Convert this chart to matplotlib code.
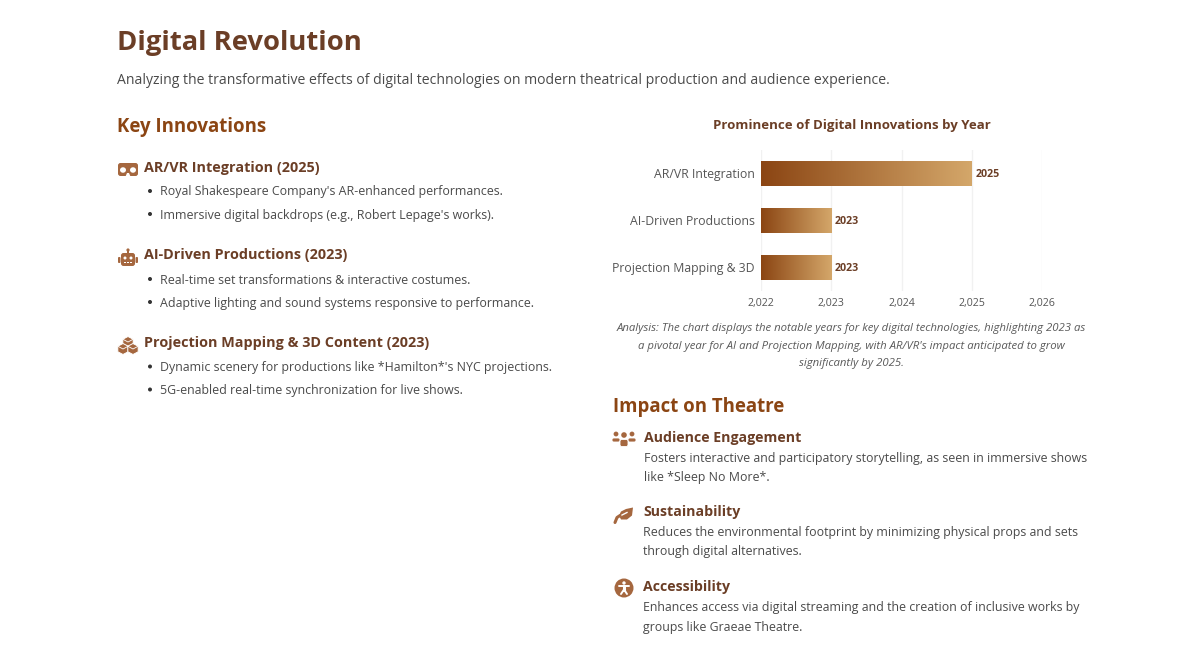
import numpy as np
from matplotlib import pyplot as plt
from matplotlib.patches import Circle, Ellipse, FancyBboxPatch, Polygon, Rectangle

plt.rcParams['font.family'] = ['Open Sans', 'DejaVu Sans']

W, H = 1201, 651
DARK = '#6b3e26'
BROWN = '#8b4513'
ICON = '#a5673f'
GREY = '#4a4a4a'

# chart data
categories = ['AR/VR Integration', 'AI-Driven Productions', 'Projection Mapping & 3D']
years = [2025, 2023, 2023]
year_ticks = [2022, 2023, 2024, 2025, 2026]

title = 'Digital Revolution'
subtitle = ('Analyzing the transformative effects of digital technologies on modern '
            'theatrical production and audience experience.')
chart_title = 'Prominence of Digital Innovations by Year'
analysis = [
    'Analysis: The chart displays the notable years for key digital technologies, highlighting 2023 as',
    "a pivotal year for AI and Projection Mapping, with AR/VR's impact anticipated to grow",
    'significantly by 2025.',
]

innovations = [
    ('AR/VR Integration (2025)', 167, 191, ["Royal Shakespeare Company's AR-enhanced performances.",
                                            "Immersive digital backdrops (e.g., Robert Lepage's works)."]),
    ('AI-Driven Productions (2023)', 254, 279, ['Real-time set transformations & interactive costumes.',
                                                'Adaptive lighting and sound systems responsive to performance.']),
    ('Projection Mapping & 3D Content (2023)', 342, 366.5, ["Dynamic scenery for productions like *Hamilton*'s NYC projections.",
                                                            '5G-enabled real-time synchronization for live shows.']),
]
impacts = [
    ('Audience Engagement', 437, 644, ['Fosters interactive and participatory storytelling, as seen in immersive shows',
                                       'like *Sleep No More*.']),
    ('Sustainability', 511, 643, ['Reduces the environmental footprint by minimizing physical props and sets',
                                  'through digital alternatives.']),
    ('Accessibility', 586, 643, ['Enhances access via digital streaming and the creation of inclusive works by',
                                 'groups like Graeae Theatre.']),
]


def icon_vr(ax, x, y):
    ax.add_patch(FancyBboxPatch((x - 10, y - 6.5), 20, 13, boxstyle='round,pad=0,rounding_size=2.5', fc=ICON, ec='none'))
    ax.add_patch(Ellipse((x - 5, y + 0.5), 6, 5.5, fc='white', ec='none'))
    ax.add_patch(Ellipse((x + 5, y + 0.5), 6, 5.5, fc='white', ec='none'))
    ax.add_patch(Polygon([(x - 2.5, y + 7), (x + 2.5, y + 7), (x + 1, y + 3.5), (x - 1, y + 3.5)], fc='white', ec='none'))


def icon_robot(ax, x, y):
    ax.add_patch(FancyBboxPatch((x - 7, y - 5), 14, 13, boxstyle='round,pad=0,rounding_size=2.5', fc=ICON, ec='none'))
    ax.add_patch(FancyBboxPatch((x - 10, y - 1), 2.5, 6, boxstyle='round,pad=0,rounding_size=1', fc=ICON, ec='none'))
    ax.add_patch(FancyBboxPatch((x + 7.5, y - 1), 2.5, 6, boxstyle='round,pad=0,rounding_size=1', fc=ICON, ec='none'))
    ax.add_patch(Rectangle((x - 0.8, y - 8), 1.6, 4, fc=ICON, ec='none'))
    ax.add_patch(Circle((x, y - 8), 1.6, fc=ICON, ec='none'))
    ax.add_patch(Circle((x - 3, y), 1.5, fc='white', ec='none'))
    ax.add_patch(Circle((x + 3, y), 1.5, fc='white', ec='none'))
    for dx in (-3, 0, 3):
        ax.add_patch(Rectangle((x + dx - 1, y + 4), 2, 1.2, fc='white', ec='none'))


def icon_cubes(ax, x, y):
    for dx, dy in [(0, -3.5), (-5, 3.5), (5, 3.5)]:
        ax.add_patch(Polygon([(x + dx, y + dy - 5.5), (x + dx + 5.2, y + dy - 2.8), (x + dx + 5.2, y + dy + 2.8),
                              (x + dx, y + dy + 5.5), (x + dx - 5.2, y + dy + 2.8), (x + dx - 5.2, y + dy - 2.8)],
                             fc=ICON, ec='white', lw=0.7))
        ax.plot([x + dx - 5.2, x + dx, x + dx + 5.2], [y + dy - 2.8, y + dy, y + dy - 2.8], color='white', lw=0.6)


def icon_users(ax, x, y):
    for dx, r, head, top, h in [(-8, 2.4, -5, -1, 4), (8, 2.4, -5, -1, 4), (0, 2.8, -4, 0.5, 7)]:
        ax.add_patch(Circle((x + dx, y + head), r, fc=ICON, ec='none'))
        ax.add_patch(FancyBboxPatch((x + dx - 4, y + top), 8, h, boxstyle='round,pad=0,rounding_size=1.8',
                                    fc=ICON, ec='white', lw=0.6))


def icon_leaf(ax, x, y):
    ax.add_patch(Polygon([(x + 9, y - 7), (x + 8, y + 1), (x + 3, y + 5), (x - 3, y + 5), (x - 5, y + 1),
                          (x - 3, y - 3), (x + 2, y - 5.5)], fc=ICON, ec='none'))
    ax.plot([x - 9, x - 5, x + 3], [y + 8, y + 2, y - 2], color='white', lw=1.0)
    ax.plot([x - 9, x - 7, x - 4], [y + 8, y + 3, y + 1], color=ICON, lw=2.2, solid_capstyle='round')


def icon_access(ax, x, y):
    ax.add_patch(Circle((x, y), 9.5, fc=ICON, ec='none'))
    ax.add_patch(Circle((x, y - 5), 1.7, fc='white', ec='none'))
    ax.plot([x - 5, x + 5], [y - 2, y - 2], color='white', lw=1.4, solid_capstyle='round')
    ax.plot([x, x], [y - 2, y + 1.5], color='white', lw=2.2)
    ax.plot([x - 3, x, x + 3], [y + 6, y + 1.5, y + 6], color='white', lw=1.4, solid_capstyle='round')


fig = plt.figure(figsize=(W / 100, H / 100), dpi=100, facecolor='white')

# whole figure in pixels, y pointing down, for the page text
page = fig.add_axes([0, 0, 1, 1])
page.set_xlim(0, W)
page.set_ylim(H, 0)
page.axis('off')

page.text(117, 43, title, fontsize=19.7, fontweight='bold', color=DARK, va='center')
page.text(117, 81, subtitle, fontsize=10.07, color=GREY, va='center')
page.text(117, 127, 'Key Innovations', fontsize=13.4, fontweight='bold', color=BROWN, va='center')
page.text(613, 407, 'Impact on Theatre', fontsize=13.4, fontweight='bold', color=BROWN, va='center')

for (name, y, first, items), icon, iy in zip(innovations, [icon_vr, icon_robot, icon_cubes], [169.5, 258, 345.5]):
    icon(page, 128, iy)
    page.text(143.5, y + 1, name, fontsize=10.4, fontweight='bold', color=DARK, va='center')
    for i, item in enumerate(items):
        yy = first + i * 23
        page.add_patch(Circle((150, yy), 2, fc='#333333', ec='none'))
        page.text(160, yy + 1, item, fontsize=8.9, color=GREY, va='center')

for (name, y, tx, lines), icon, iy in zip(impacts, [icon_users, icon_leaf, icon_access], [439, 514.5, 588]):
    icon(page, 624, iy)
    page.text(tx, y + 1, name, fontsize=10.15, fontweight='bold', color=DARK, va='center')
    for i, line in enumerate(lines):
        page.text(tx, y + 21.5 + i * 19.5, line, fontsize=8.93, color=GREY, va='center')

page.text(851.5, 125, chart_title, fontsize=9.55, fontweight='bold', color=DARK, va='center', ha='center')
for i, line in enumerate(analysis):
    page.text(851.5, 329 + i * 17.3, line, fontsize=8.2, style='italic', color='#5a5a5a', va='center', ha='center')

# bar chart: x=2022 at pixel 761, x=2026 at pixel 1042
left, right, top, bottom = 761, 1042, 150, 291
ax = fig.add_axes([left / W, 1 - bottom / H, (right - left) / W, (bottom - top) / H])
ax.patch.set_alpha(0)
ax.grid(axis='x', color='#f1f1f1', lw=1)
ax.set_axisbelow(True)
for s in ax.spines.values():
    s.set_visible(False)
ax.set_xticks(year_ticks, [f'{v:,}' for v in year_ticks])
ax.set_yticks(range(len(categories)), categories)
ax.tick_params(length=0)
ax.tick_params(axis='x', labelsize=7.7, labelcolor='#555555', pad=5)
ax.tick_params(axis='y', labelsize=8.8, labelcolor='#555555', pad=4.5)

ramp = np.array([[0x8b, 0x45, 0x13], [0xd4, 0xa7, 0x6a]]) / 255
grad = np.linspace(ramp[0], ramp[1], 256)[np.newaxis, :, :]
for i, v in enumerate(years):
    ax.imshow(grad, extent=(year_ticks[0], v, i + 0.26, i - 0.26), aspect='auto', zorder=2)
    ax.text(v + 0.05, i + 0.02, str(v), fontsize=7.7, fontweight='bold', color=DARK, va='center', ha='left')
ax.set_xlim(year_ticks[0], year_ticks[-1])
ax.set_ylim(2.5, -0.5)

fig.savefig('out.png', dpi=100)
